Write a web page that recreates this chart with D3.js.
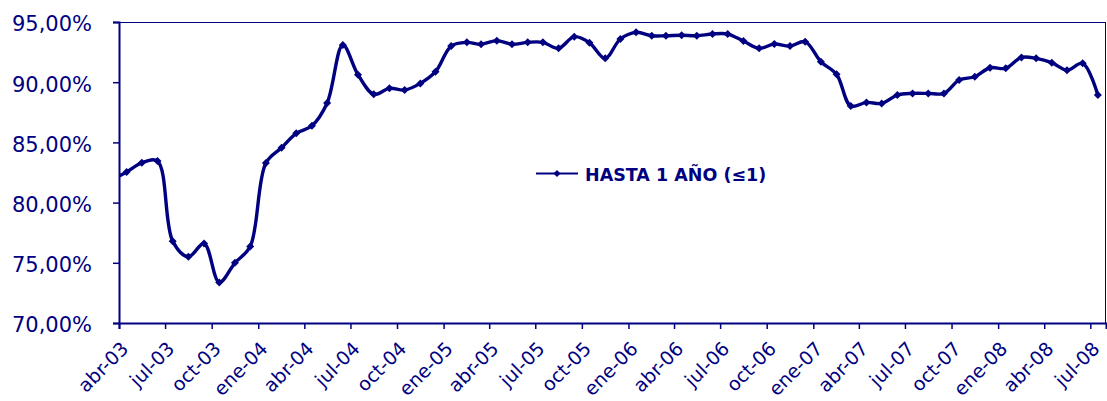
<!DOCTYPE html>
<html>
<head>
<meta charset="utf-8">
<script src="https://cdn.jsdelivr.net/npm/d3@7"></script>
<style>
  html, body { margin: 0; padding: 0; background: #fff; }
  svg { display: block; font-family: "DejaVu Sans", Verdana, sans-serif; }
</style>
</head>
<body>
<svg id="chart" width="1107" height="401"></svg>
<script>
// meses (el primero queda recortado a la izquierda del área de trazado)
const months = [
  'mar-03', 'abr-03', 'may-03', 'jun-03', 'jul-03', 'ago-03', 'sep-03', 'oct-03', 'nov-03', 'dic-03',
  'ene-04', 'feb-04', 'mar-04', 'abr-04', 'may-04', 'jun-04', 'jul-04', 'ago-04', 'sep-04', 'oct-04', 'nov-04', 'dic-04',
  'ene-05', 'feb-05', 'mar-05', 'abr-05', 'may-05', 'jun-05', 'jul-05', 'ago-05', 'sep-05', 'oct-05', 'nov-05', 'dic-05',
  'ene-06', 'feb-06', 'mar-06', 'abr-06', 'may-06', 'jun-06', 'jul-06', 'ago-06', 'sep-06', 'oct-06', 'nov-06', 'dic-06',
  'ene-07', 'feb-07', 'mar-07', 'abr-07', 'may-07', 'jun-07', 'jul-07', 'ago-07', 'sep-07', 'oct-07', 'nov-07', 'dic-07',
  'ene-08', 'feb-08', 'mar-08', 'abr-08', 'may-08', 'jun-08', 'jul-08'
]
const hasta1 = [
  81.85, 82.55, 83.30, 83.45, 76.80, 75.50, 76.60, 73.37, 75.00, 76.35,
  83.28, 84.55, 85.75, 86.38, 88.27, 93.09, 90.62, 89.00, 89.49, 89.35, 89.90, 90.87,
  93.00, 93.31, 93.15, 93.45, 93.15, 93.31, 93.31, 92.81, 93.78, 93.28, 91.98, 93.59,
  94.14, 93.86, 93.86, 93.90, 93.86, 94.00, 94.00, 93.42, 92.81, 93.17, 93.00, 93.36,
  91.70, 90.65, 88.02, 88.32, 88.24, 88.93, 89.07, 89.07, 89.07, 90.18, 90.45, 91.20,
  91.15, 92.06, 91.98, 91.62, 91.00, 91.57, 88.93
]
const xTickLabels = [
  'abr-03', 'jul-03', 'oct-03', 'ene-04', 'abr-04', 'jul-04', 'oct-04', 'ene-05', 'abr-05', 'jul-05', 'oct-05',
  'ene-06', 'abr-06', 'jul-06', 'oct-06', 'ene-07', 'abr-07', 'jul-07', 'oct-07', 'ene-08', 'abr-08', 'jul-08'
]
const yTicks = [70, 75, 80, 85, 90, 95]
const seriesName = 'HASTA 1 AÑO (≤1)'

const NAVY = '#000080'
const mesIdx = { ene: 0, feb: 1, mar: 2, abr: 3, may: 4, jun: 5, jul: 6, ago: 7, sep: 8, oct: 9, nov: 10, dic: 11 }
const parseMes = (s, day) => {
  const [m, y] = s.split('-')
  return new Date(Date.UTC(2000 + +y, mesIdx[m], day))
}

const data = months.map((m, i) => ({ date: parseMes(m, 16), value: hasta1[i] }))

const plot = { left: 119, right: 1106, top: 22, bottom: 323 }

const x = d3.scaleUtc()
  .domain([parseMes('abr-03', 1), parseMes('ago-08', 1)])
  .range([plot.left, plot.right])
const y = d3.scaleLinear().domain([70, 95]).range([plot.bottom, plot.top])

const svg = d3.select('#chart')

svg.append('defs').append('clipPath').attr('id', 'clip')
  .append('rect')
  .attr('x', plot.left).attr('y', plot.top - 6)
  .attr('width', plot.right - plot.left + 6).attr('height', plot.bottom - plot.top + 6)

// borde del área de trazado
svg.append('rect')
  .attr('x', plot.left + 0.5).attr('y', plot.top + 0.5)
  .attr('width', plot.right - plot.left - 1).attr('height', plot.bottom - plot.top)
  .attr('fill', 'none').attr('stroke', NAVY).attr('stroke-width', 1)

const loc = d3.formatLocale({ decimal: ',', thousands: '.', grouping: [3], currency: ['', '€'] })
const fmt = loc.format('.2f')

const yAxis = svg.append('g')
  .attr('transform', `translate(${plot.left},0)`)
  .call(d3.axisLeft(y).tickValues(yTicks).tickSize(6).tickPadding(21).tickFormat(d => fmt(d) + '%'))
yAxis.select('.domain').attr('stroke', NAVY).attr('stroke-width', 2)
yAxis.selectAll('.tick line').attr('stroke', NAVY).attr('stroke-width', 1.5)
yAxis.selectAll('.tick text')
  .attr('fill', NAVY).attr('font-size', 21).attr('font-family', '"DejaVu Sans", Verdana, sans-serif')
  .attr('dy', '0.42em')

const xAxis = svg.append('g')
  .attr('transform', `translate(0,${plot.bottom})`)
  .call(d3.axisBottom(x)
    .tickValues(xTickLabels.map(s => parseMes(s, 1)))
    .tickSize(6)
    .tickFormat((d, i) => xTickLabels[i]))
xAxis.select('.domain').attr('stroke', NAVY).attr('stroke-width', 2)
xAxis.selectAll('.tick line').attr('stroke', NAVY).attr('stroke-width', 1.5)
xAxis.selectAll('.tick text')
  .attr('fill', NAVY).attr('font-size', 19).attr('font-family', '"DejaVu Sans", Verdana, sans-serif')
  .attr('x', 0).attr('y', 0).attr('dy', 0)
  .attr('text-anchor', 'end')
  .attr('transform', 'translate(10,27) rotate(-45)')

// serie
const line = d3.line()
  .x(d => x(d.date))
  .y(d => y(d.value))
  .curve(d3.curveCatmullRom.alpha(0.5))

const g = svg.append('g').attr('clip-path', 'url(#clip)')
g.append('path')
  .datum(data)
  .attr('d', line)
  .attr('fill', 'none')
  .attr('stroke', NAVY)
  .attr('stroke-width', 3.4)
  .attr('stroke-linejoin', 'round')

const marker = d3.symbol(d3.symbolSquare, 32)
g.selectAll('path.pt')
  .data(data.filter(d => x(d.date) >= plot.left))
  .enter().append('path')
  .attr('class', 'pt')
  .attr('d', marker)
  .attr('transform', d => `translate(${x(d.date)},${y(d.value)}) rotate(45)`)
  .attr('fill', NAVY)

// leyenda
const leg = svg.append('g').attr('transform', 'translate(536,173.5)')
leg.append('line').attr('x1', 0).attr('x2', 42).attr('y1', 0).attr('y2', 0)
  .attr('stroke', NAVY).attr('stroke-width', 2)
leg.append('path').attr('d', d3.symbol(d3.symbolSquare, 26))
  .attr('transform', 'translate(21,0) rotate(45)').attr('fill', NAVY)
leg.append('text')
  .attr('x', 49).attr('y', 7)
  .attr('font-size', 17.5).attr('font-weight', 'bold')
  .attr('fill', NAVY)
  .text(seriesName)
</script>
</body>
</html>
